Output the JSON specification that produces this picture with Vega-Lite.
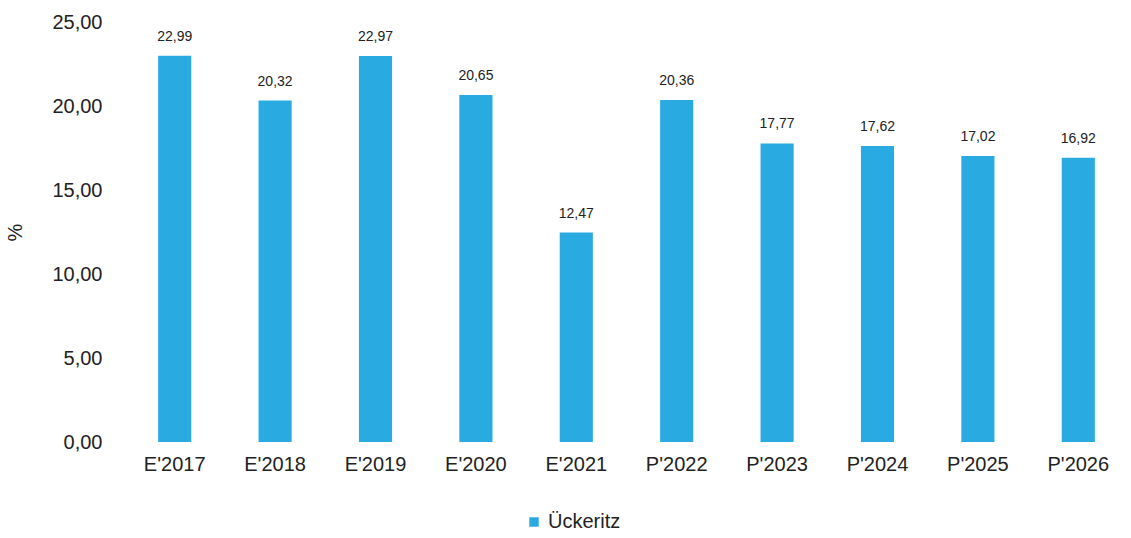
{
  "$schema": "https://vega.github.io/schema/vega-lite/v6.json",
  "width": 1005,
  "height": 420,
  "autosize": {"type": "none"},
  "padding": {"left": 124, "top": 22, "right": 2, "bottom": 96},
  "background": "white",
  "config": {
    "locale": {"number": {"decimal": ",", "thousands": ".", "grouping": [3], "currency": ["", " €"]}},
    "view": {"stroke": null},
    "font": "Liberation Sans"
  },
  "data": {
    "values": [
      {"year": "E'2017", "value": 22.99, "series": "Ückeritz"},
      {"year": "E'2018", "value": 20.32, "series": "Ückeritz"},
      {"year": "E'2019", "value": 22.97, "series": "Ückeritz"},
      {"year": "E'2020", "value": 20.65, "series": "Ückeritz"},
      {"year": "E'2021", "value": 12.47, "series": "Ückeritz"},
      {"year": "P'2022", "value": 20.36, "series": "Ückeritz"},
      {"year": "P'2023", "value": 17.77, "series": "Ückeritz"},
      {"year": "P'2024", "value": 17.62, "series": "Ückeritz"},
      {"year": "P'2025", "value": 17.02, "series": "Ückeritz"},
      {"year": "P'2026", "value": 16.92, "series": "Ückeritz"}
    ]
  },
  "encoding": {
    "x": {
      "field": "year", "type": "nominal", "sort": null,
      "scale": {"paddingInner": 0.67, "paddingOuter": 0.34},
      "axis": {"title": null, "labelAngle": 0, "labelFontSize": 20, "labelColor": "#222", "domain": false, "ticks": false, "labelPadding": 12}
    },
    "y": {
      "field": "value", "type": "quantitative",
      "scale": {"domain": [0, 25]},
      "axis": {"title": "%", "titleFontSize": 20, "titleFontWeight": "normal", "titleColor": "#222", "titlePadding": 26,
               "values": [0, 5, 10, 15, 20, 25], "format": ".2f", "labelFontSize": 20, "labelColor": "#222",
               "domain": false, "ticks": false, "grid": false, "labelPadding": 22}
    }
  },
  "layer": [
    {
      "mark": {"type": "bar"},
      "encoding": {
        "color": {
          "field": "series", "type": "nominal",
          "scale": {"range": ["#29ABE2"]},
          "legend": {"title": null, "orient": "none", "legendX": 400, "legendY": 490, "symbolType": "square", "symbolSize": 90, "labelFontSize": 20, "labelColor": "#222", "labelOffset": 4}
        }
      }
    },
    {
      "mark": {"type": "text", "dy": -19, "fontSize": 14, "color": "#222"},
      "encoding": {
        "text": {"field": "value", "type": "quantitative", "format": ".2f"}
      }
    }
  ]
}
